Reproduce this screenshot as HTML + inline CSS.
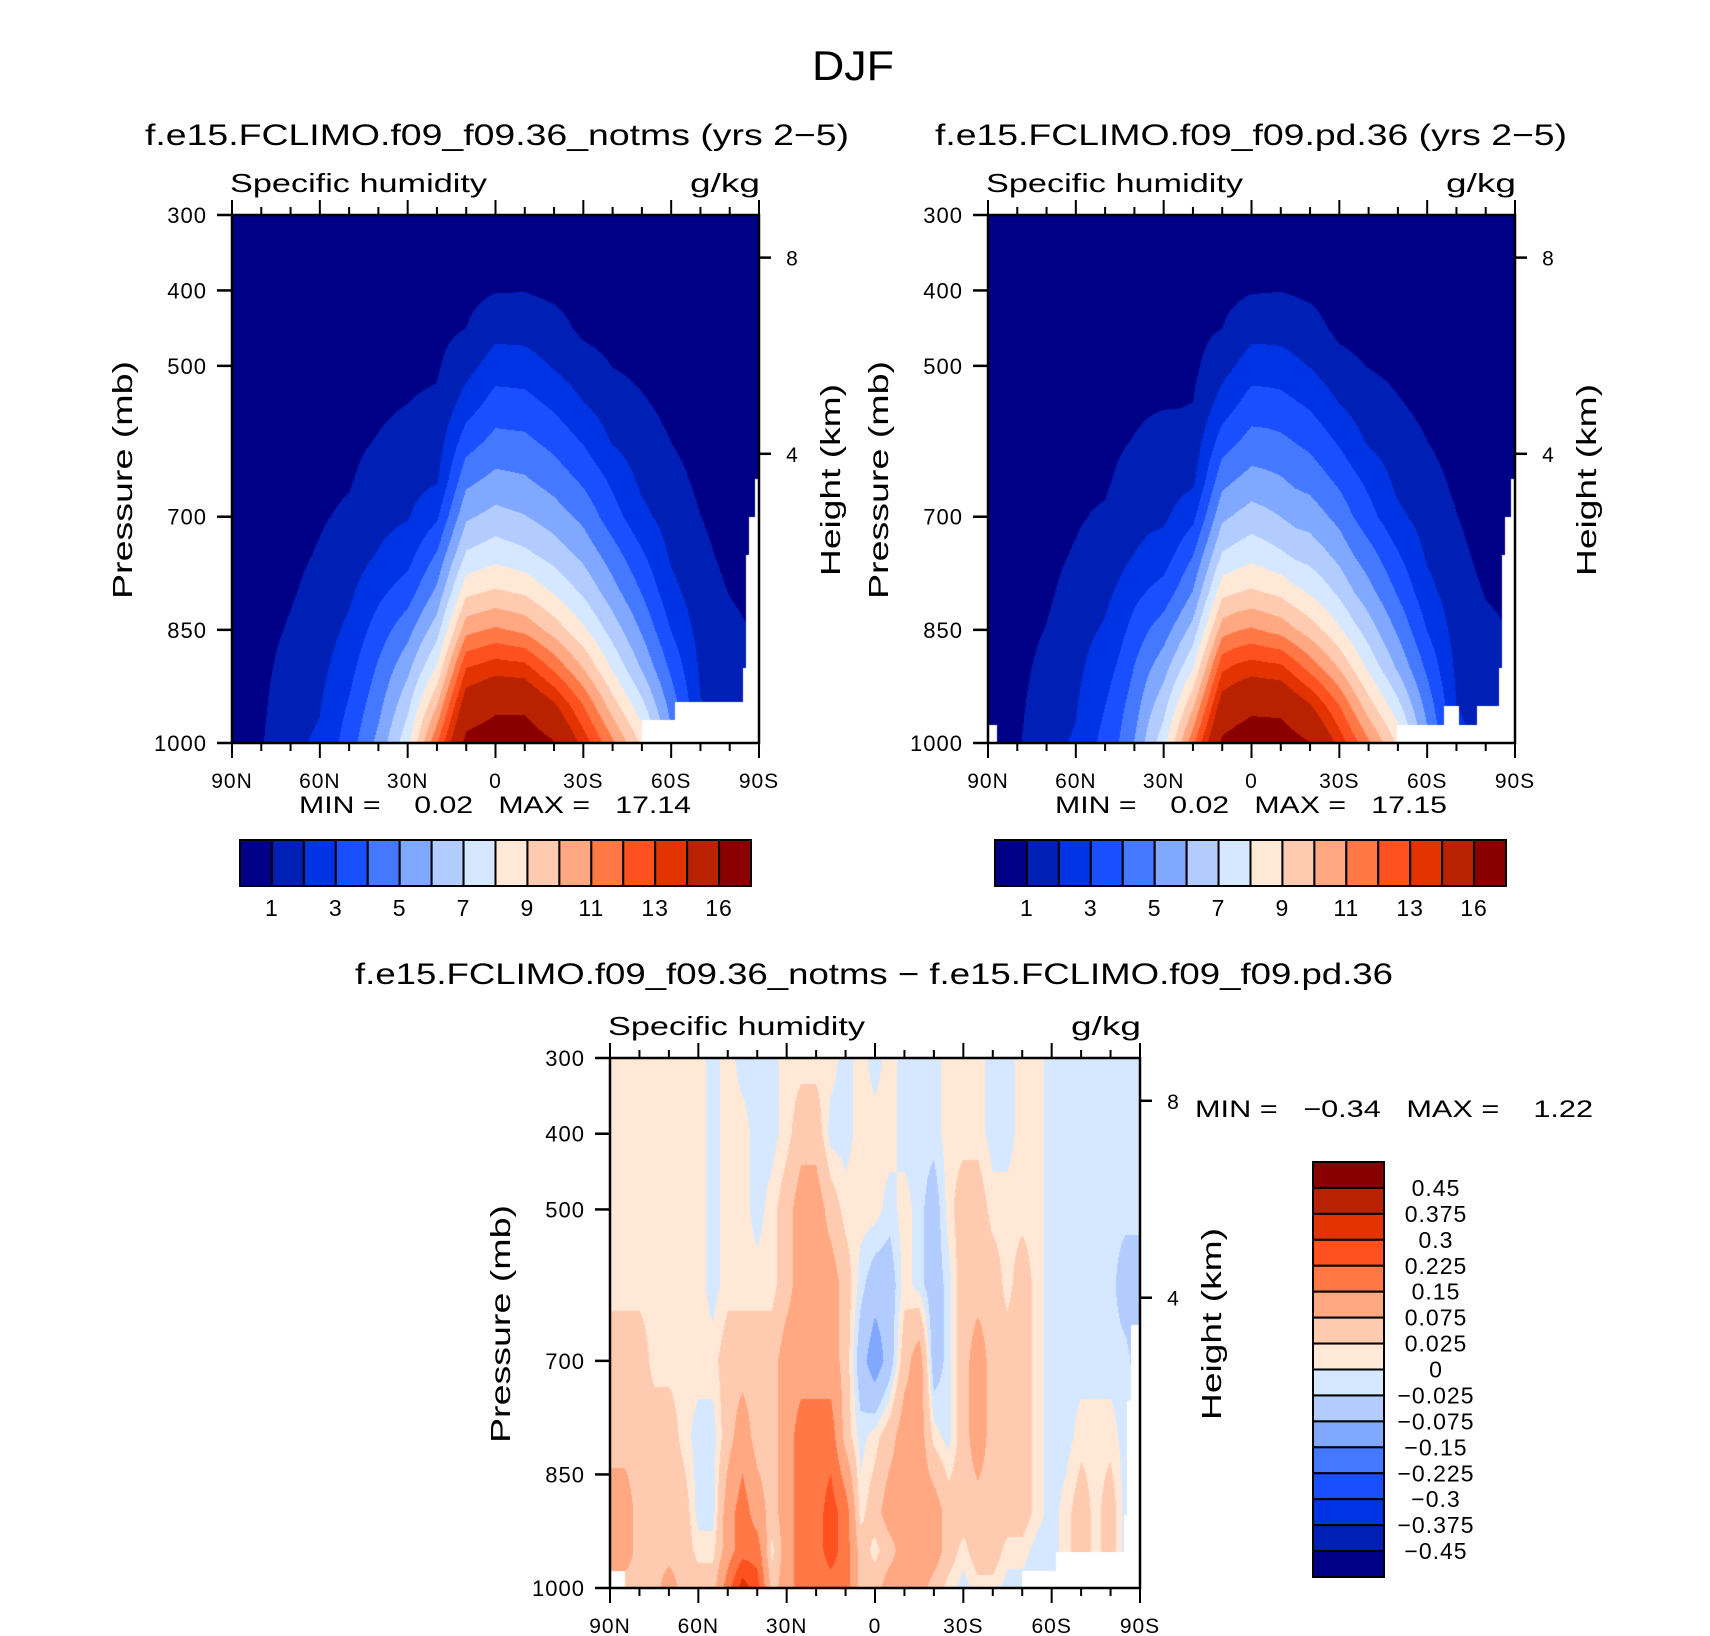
<!DOCTYPE html>
<html><head><meta charset="utf-8">
<style>
html,body{margin:0;padding:0;background:#fff;}
#root{position:relative;width:1710px;height:1636px;overflow:hidden;font-family:"Liberation Sans",sans-serif;}
canvas{position:absolute;}
svg{position:absolute;left:0;top:0;}
text{font-family:"Liberation Sans",sans-serif;fill:#000;white-space:pre;}
</style></head>
<body>
<div id="root">
<canvas id="c1"></canvas>
<canvas id="c2"></canvas>
<canvas id="c3"></canvas>
<svg id="ov" width="1710" height="1636"></svg>
</div>
<script>
// ---------- data ----------
const gridLats = [90,80,70,60,50,40,30,20,10,0,-10,-20,-30,-40,-50,-60,-70,-80,-90];
const gridP = [300,350,400,450,500,550,600,650,700,750,800,850,900,950,1000];
// specific humidity (g/kg) of run 1, one column per latitude
const q1Cols = [
[.2,.25,.3,.35,.4,.45,.5,.55,.6,.65,.7,.72,.75,.78,.8],
[.2,.25,.3,.35,.4,.45,.5,.55,.6,.65,.7,.75,.8,.85,.92],
[.25,.3,.35,.4,.45,.5,.55,.62,.7,.8,.92,1.08,1.3,1.55,1.8],
[.3,.33,.38,.43,.5,.58,.68,.8,.92,1.07,1.28,1.5,1.72,1.94,2.15],
[.3,.35,.42,.5,.58,.68,.8,.92,1.14,1.48,1.82,2.2,2.64,3.1,3.5],
[.35,.4,.48,.56,.7,.84,1.05,1.38,1.7,2.06,2.76,3.46,4.14,4.7,5.3],
[.4,.5,.6,.72,.86,1.0,1.31,1.62,1.93,2.6,3.5,4.64,5.7,6.73,7.7],
[.4,.5,.62,.76,.9,1.12,1.5,1.87,2.83,4.1,5.23,6.56,8.1,10,11.9],
[.4,.55,.75,1.0,1.63,2.45,3.53,4.69,5.84,7.13,8.74,10.68,12.96,14.9,16.5],
[.45,.65,.95,1.64,2.5,3.43,4.31,5.26,6.34,7.6,9.16,11.17,13.55,15.63,17.0],
[.45,.65,.97,1.63,2.43,3.35,4.22,5.1,6.05,7.23,8.85,10.74,13.36,15.6,17.1],
[.4,.55,.8,1.35,1.91,2.79,3.68,4.55,5.5,6.58,7.89,9.58,11.74,14.2,16.1],
[.35,.45,.6,.8,1.37,2.04,2.91,3.79,4.72,5.71,6.82,8.19,9.96,12,13.6],
[.3,.4,.5,.7,.98,1.45,1.92,2.77,3.42,4.45,5.41,6.55,7.83,9.45,11.2],
[.3,.38,.46,.6,.78,1.1,1.44,1.77,2.26,3.13,3.94,4.87,5.88,7.3,8.8],
[.25,.3,.36,.45,.58,.76,.99,1.28,1.56,1.85,2.3,2.96,3.77,4.6,5.3],
[.2,.24,.28,.34,.42,.52,.66,.82,1.01,1.22,1.43,1.64,1.85,2.05,2.3],
[.15,.18,.2,.24,.28,.33,.4,.5,.62,.76,.97,1.2,1.4,1.6,1.8],
[.1,.12,.14,.16,.2,.24,.3,.38,.48,.6,.75,.9,1.05,1.2,1.35]
];
// difference (run1 - run2), one column per 5 degrees latitude
const diffLats = [90,85,80,75,70,65,60,55,50,45,40,35,30,25,20,15,10,5,0,-5,-10,-15,-20,-25,-30,-35,-40,-45,-50,-55,-60,-65,-70,-75,-80,-85,-90];
const diffP = [300,400,500,600,700,800,900,950,1000];
const diffCols = [
[.012,.012,.012,.012,.05,.05,.11,.11,.11],
[.012,.012,.012,.012,.05,.05,.11,.11,.05],
[.012,.012,.012,.012,.05,.05,.05,.05,.05],
[.012,.012,.012,.012,.012,.05,.05,.05,.05],
[.012,.012,.012,.012,.012,.05,.05,.05,.11],
[.012,.012,.012,.012,.012,.012,.05,.05,.05],
[.012,.012,.012,.012,.012,-.012,-.012,.012,.05],
[-.012,-.012,-.012,-.012,.012,-.012,-.012,.012,.05],
[.012,.012,.012,.012,.05,.05,.11,.11,.19],
[-.012,.012,.012,.012,.05,.11,.19,.19,.34],
[-.012,-.012,-.012,.012,.05,.05,.11,.19,.26],
[-.012,-.012,.012,.012,.05,.05,.05,.012,.05],
[.012,.012,.05,.05,.11,.11,.11,.11,.11],
[.012,.05,.11,.11,.11,.19,.19,.19,.19],
[.012,.05,.11,.11,.11,.19,.19,.19,.19],
[.012,-.012,.05,.11,.11,.19,.26,.26,.19],
[-.012,-.012,.012,.05,.05,.05,.19,.19,.19],
[.012,.012,.012,-.012,-.05,-.012,.012,.05,.05],
[-.012,.012,.012,-.05,-.11,.012,.05,.012,.05],
[.012,.012,-.012,-.05,-.05,.05,.11,.05,.11],
[-.012,-.012,.012,.012,.05,.11,.11,.11,.11],
[-.012,-.012,-.012,-.012,.11,.11,.11,.11,.11],
[-.012,-.012,-.05,-.05,-.05,.012,.11,.11,.05],
[.012,.012,.012,-.012,-.012,-.012,.05,.05,.012],
[.012,.012,.05,.05,.05,.05,.05,.012,-.012],
[.012,.012,.05,.05,.11,.11,.05,.05,.012],
[-.012,-.012,.012,.05,.05,.05,.05,.05,.012],
[-.012,-.012,.012,.012,.05,.05,.05,.012,-.012],
[.012,.012,.012,.05,.05,.05,.05,.012,-.012],
[.012,.012,.012,.012,.012,.012,.012,-.012,-.012],
[-.012,-.012,-.012,-.012,-.012,-.012,-.012,-.012,-.012],
[-.012,-.012,-.012,-.012,-.012,-.012,.012,.012,.012],
[-.012,-.012,-.012,-.012,-.012,.012,.05,.05,.05],
[-.012,-.012,-.012,-.012,-.012,.012,.012,.012,.012],
[-.012,-.012,-.012,-.012,-.012,.012,.05,.05,.012],
[-.012,-.012,-.012,-.05,-.012,-.012,-.012,-.012,-.012],
[-.012,-.012,-.012,-.05,-.05,-.012,-.012,-.012,-.012]
];
// below-ground masks: [lat from, lat to, surface pressure]
const mask1 = [[-50,-61.4,970],[-61.4,-84.5,945],[-84.5,-85.6,900],[-85.6,-86.6,751],[-86.6,-88.5,700],[-88.5,-90,650]];
const mask2 = [[90,87,976],[-49.6,-65.6,976],[-65.6,-71,951],[-71,-77,976],[-77,-84.5,951],[-84.5,-85.6,900],[-85.6,-86.6,751],[-86.6,-88.5,700],[-88.5,-90,650]];
const mask3 = [[90,85,978],[-50,-61.5,978],[-61.5,-84.5,952],[-84.5,-85.7,903],[-85.7,-86.8,753],[-86.8,-90,653]];
const qLevels = [1,2,3,4,5,6,7,8,9,10,11,12,13,14,16];
const qLabels = ["1","3","5","7","9","11","13","16"];
const dLevels = [-0.45,-0.375,-0.3,-0.225,-0.15,-0.075,-0.025,0,0.025,0.075,0.15,0.225,0.3,0.375,0.45];
const dLabels = ["0.45","0.375","0.3","0.225","0.15","0.075","0.025","0","\u22120.025","\u22120.075","\u22120.15","\u22120.225","\u22120.3","\u22120.375","\u22120.45"];
const pTicks = [300,400,500,700,850,1000];
const latTicks = [90,60,30,0,-30,-60,-90];
const latTickLabels = ["90N","60N","30N","0","30S","60S","90S"];
const kmTicks = [8,4];
const kmTickP = [356.5,616.6];
const colors = ["#000087","#001fb5","#0033e3","#1a4fff","#4479ff","#80a8ff","#b3ccff","#d6e8ff","#ffe8d6","#ffcbb0","#ffa882","#ff7845","#ff5020","#e33300","#b82200","#8a0000"];

// ---------- helpers ----------
const panels = [
  {id:"c1",x0:232,x1:759,y0:215,y1:743},
  {id:"c2",x0:988,x1:1515,y0:215,y1:743},
  {id:"c3",x0:610,x1:1140,y0:1058,y1:1588}
];
function xScale(pn,lat){return pn.x0+(90-lat)/180*(pn.x1-pn.x0);}
function yScale(pn,p){return pn.y0+(p-300)/700*(pn.y1-pn.y0);}
function findIdx(arr,v,desc){
  for(let i=0;i<arr.length-1;i++){
    if(desc){ if(v<=arr[i]&&v>=arr[i+1]) return i; }
    else { if(v>=arr[i]&&v<=arr[i+1]) return i; }
  }
  return arr.length-2;
}
function bilin(lats,ps,cols,lat,p){
  const i=findIdx(lats,lat,true), j=findIdx(ps,p,false);
  const tx=(lats[i]-lat)/(lats[i]-lats[i+1]);
  const ty=(p-ps[j])/(ps[j+1]-ps[j]);
  const a=cols[i][j],b=cols[i+1][j],c=cols[i][j+1],d=cols[i+1][j+1];
  return (a*(1-tx)+b*tx)*(1-ty)+(c*(1-tx)+d*tx)*ty;
}
function masked(m,lat,p){
  for(const r of m){const lo=Math.min(r[0],r[1]),hi=Math.max(r[0],r[1]);
    if(lat>=lo&&lat<=hi&&p>r[2]) return true;}
  return false;
}
function levelIdx(lv,v){let k=0;for(const t of lv){if(v>=t)k++;}return k;}
const rgb=colors.map(c=>[parseInt(c.substr(1,2),16),parseInt(c.substr(3,2),16),parseInt(c.substr(5,2),16)]);
function drawField(pn,fn,mask,lv){
  const cv=document.getElementById(pn.id);
  const W=pn.x1-pn.x0,H=pn.y1-pn.y0;
  cv.width=W;cv.height=H;cv.style.left=pn.x0+"px";cv.style.top=pn.y0+"px";
  const ctx=cv.getContext("2d");const img=ctx.createImageData(W,H);
  for(let py=0;py<H;py++){
    const p=300+(py+0.5)/H*700;
    for(let px=0;px<W;px++){
      const lat=90-(px+0.5)/W*180;
      const o=(py*W+px)*4;
      if(masked(mask,lat,p)){img.data[o]=255;img.data[o+1]=255;img.data[o+2]=255;img.data[o+3]=255;continue;}
      const c=rgb[levelIdx(lv,fn(lat,p))];
      img.data[o]=c[0];img.data[o+1]=c[1];img.data[o+2]=c[2];img.data[o+3]=255;
    }
  }
  ctx.putImageData(img,0,0);
}
const q1=(lat,p)=>bilin(gridLats,gridP,q1Cols,lat,p);
const dq=(lat,p)=>bilin(diffLats,diffP,diffCols,lat,p);
drawField(panels[0],q1,mask1,qLevels);
drawField(panels[1],(lat,p)=>q1(lat,p)-dq(lat,p),mask2,qLevels);
drawField(panels[2],dq,mask3,dLevels);

// ---------- svg annotations ----------
const NS="http://www.w3.org/2000/svg";
const svg=document.getElementById("ov");
function el(tag,attrs){const e=document.createElementNS(NS,tag);for(const k in attrs)e.setAttribute(k,attrs[k]);svg.appendChild(e);return e;}
function txt(s,x,y,size,anchor,extra){const e=el("text",Object.assign({x:x,y:y,"font-size":size,"text-anchor":anchor||"start"},extra||{}));e.textContent=s;e.style.whiteSpace="pre";return e;}

let t=txt("DJF",853,80,42,"middle",{textLength:82,lengthAdjust:"spacingAndGlyphs"});



function panelAxes(pn,idx,title,tx0,tx1,shTop){
  const W=pn.x1-pn.x0;
  let e=txt(title,tx0,shTop?984:145,30,"start",{textLength:tx1-tx0,lengthAdjust:"spacingAndGlyphs"});
  
  
  const sy=pn.y0-23;
  e=txt("Specific humidity",pn.x0-2,sy,26,"start",{textLength:257,lengthAdjust:"spacingAndGlyphs"});
  
  
  e=txt("g/kg",pn.x1+1,sy,26,"end",{textLength:70,lengthAdjust:"spacingAndGlyphs"});
  
  
  e=el("rect",{x:pn.x0,y:pn.y0,width:W,height:pn.y1-pn.y0,fill:"none",stroke:"#000","stroke-width":2.5});
  
  
  for(let lat=90;lat>=-90;lat-=10){
    const x=xScale(pn,lat);const major=(lat%30===0);const L=major?15:8;
    e=el("line",{x1:x,x2:x,y1:pn.y0,y2:pn.y0-L,stroke:"#000","stroke-width":2});
    
    
    e=el("line",{x1:x,x2:x,y1:pn.y1,y2:pn.y1+L,stroke:"#000","stroke-width":2});
    
    
  }
  latTicks.forEach((lat,i)=>{
    const e2=txt(latTickLabels[i],xScale(pn,lat),pn.y1+45,21,"middle",{"letter-spacing":"1"});
    
    
  });
  pTicks.forEach(p=>{
    const y=yScale(pn,p);
    const l=el("line",{x1:pn.x0,x2:pn.x0-15,y1:y,y2:y,stroke:"#000","stroke-width":2.5});
    
    
    const e2=txt(String(p),pn.x0-25,y+8,22,"end",{"letter-spacing":"1"});
    
    
  });
  kmTicks.forEach((k,i)=>{
    const y=yScale(pn,kmTickP[i]);
    const l=el("line",{x1:pn.x1,x2:pn.x1+12,y1:y,y2:y,stroke:"#000","stroke-width":2.5});
    
    
    const e2=txt(String(k),pn.x1+33,y+8,21,"middle");
    
    
  });
  const cy=(pn.y0+pn.y1)/2+1;
  e=txt("Pressure (mb)",0,0,28,"middle",{textLength:238,lengthAdjust:"spacingAndGlyphs",transform:"translate("+(pn.x0-100)+","+cy+") rotate(-90)"});
  
  
  e=txt("Height (km)",0,0,28,"middle",{textLength:192,lengthAdjust:"spacingAndGlyphs",transform:"translate("+(pn.x1+81)+","+cy+") rotate(-90)"});
  
  
}
panelAxes(panels[0],1,"f.e15.FCLIMO.f09_f09.36_notms (yrs 2\u22125)",145,849,false);
panelAxes(panels[1],2,"f.e15.FCLIMO.f09_f09.pd.36 (yrs 2\u22125)",935,1567,false);
panelAxes(panels[2],3,"f.e15.FCLIMO.f09_f09.36_notms \u2212 f.e15.FCLIMO.f09_f09.pd.36",355,1393,true);

t=txt("MIN =    0.02   MAX =   17.14",299,813,24,"start",{textLength:392,lengthAdjust:"spacingAndGlyphs"});


t=txt("MIN =    0.02   MAX =   17.15",1055,813,24,"start",{textLength:392,lengthAdjust:"spacingAndGlyphs"});


t=txt("MIN =   \u22120.34   MAX =    1.22",1195,1117,24,"start",{textLength:398,lengthAdjust:"spacingAndGlyphs"});



function hBar(x0,x1,y0,y1,idx){
  const w=(x1-x0)/16;
  for(let k=0;k<16;k++){
    const r=el("rect",{x:x0+k*w,y:y0,width:w,height:y1-y0,fill:colors[k],stroke:"#000","stroke-width":2});
    
    
  }
  qLabels.forEach((s,i)=>{
    const e=txt(s,x0+(1+2*i)*w,y1+30,23,"middle",{"letter-spacing":"1"});
    
    
  });
}
hBar(240,751,840,886,1);
hBar(995,1506,840,886,2);
(function(){
  const x0=1313,x1=1384,y0=1162,y1=1577,h=(y1-y0)/16;
  for(let k=0;k<16;k++){
    const r=el("rect",{x:x0,y:y0+k*h,width:x1-x0,height:h,fill:colors[15-k],stroke:"#000","stroke-width":2});
    
    
  }
  dLabels.forEach((s,i)=>{
    const e=txt(s,1436,y0+(i+1)*h+8,23,"middle",{"letter-spacing":"1"});
    
    
  });
})();
</script>
</body></html>
